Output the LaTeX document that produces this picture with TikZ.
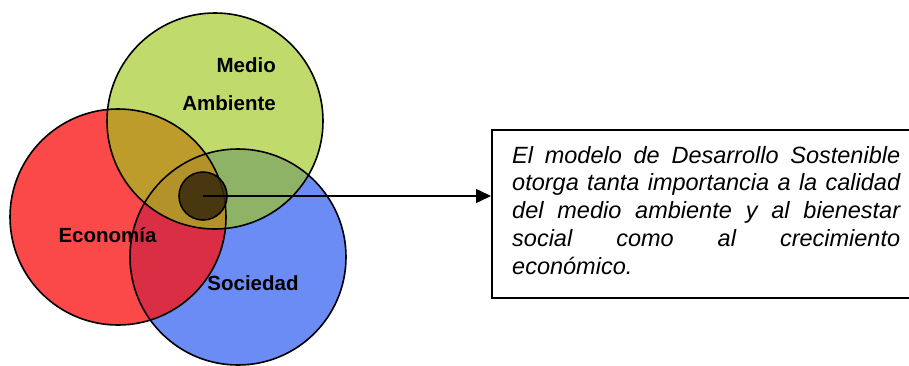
\documentclass[tikz,border=0pt]{standalone}
\usepackage{fontspec}
\setmainfont{Liberation Sans}
\usetikzlibrary{arrows.meta}
\definecolor{ecoRed}{RGB}{250,20,20}
\definecolor{socBlue}{RGB}{50,95,240}
\definecolor{medGreen}{RGB}{160,200,30}
\definecolor{coreBrown}{RGB}{55,40,10}
\tikzset{
  venn/.style={circle, minimum size=216pt, inner sep=0pt},
  rim/.style={line width=1.6pt, draw=black},
  lbl/.style={font=\fontsize{20.5}{24}\selectfont\bfseries, inner sep=0pt, text=black},
  connector/.style={line width=1.5pt, -{Triangle[length=15pt,width=14pt]}},
  textbox/.style={draw=black, line width=1.8pt, rectangle, inner sep=0pt, anchor=north west, minimum width=424pt, minimum height=168pt}
}
\begin{document}
\begin{tikzpicture}[x=1pt,y=-1pt]
\useasboundingbox (0,0) rectangle (909,365);
\node[venn, fill=socBlue, fill opacity=0.72] (soc) at (238,257) {};
\node[venn, fill=ecoRed, fill opacity=0.78] (eco) at (118,217) {};
\node[venn, fill=medGreen, fill opacity=0.66] (med) at (215,121) {};
\draw[rim] (soc) circle[radius=108pt];
\draw[rim] (eco) circle[radius=108pt];
\draw[rim] (med) circle[radius=108pt];
\node[circle, minimum size=48pt, inner sep=0pt, draw=black, line width=1.6pt, fill=coreBrown, fill opacity=0.85] (core) at (203,196) {};
\node[lbl, anchor=east] (medio) at (276,65) {Medio};
\node[lbl, anchor=east] (ambiente) at (276,103) {Ambiente};
\node[lbl] (economia) at (107.5,235) {Economía};
\node[lbl] (sociedad) at (253,283) {Sociedad};
\node[textbox] (box) at (491,129) {};
\draw[connector] (core.center) -- (core.center -| box.west);
\node[anchor=north west, inner sep=0pt, text width=388pt, align=justify,
      font=\fontsize{23.5}{27.7}\selectfont\itshape] (txt) at (512,146)
  {El modelo de Desarrollo Sostenible\linebreak
   otorga tanta importancia a la calidad\linebreak
   del medio ambiente y al bienestar\linebreak
   social como al crecimiento\linebreak
   económico.};
\end{tikzpicture}
\end{document}
